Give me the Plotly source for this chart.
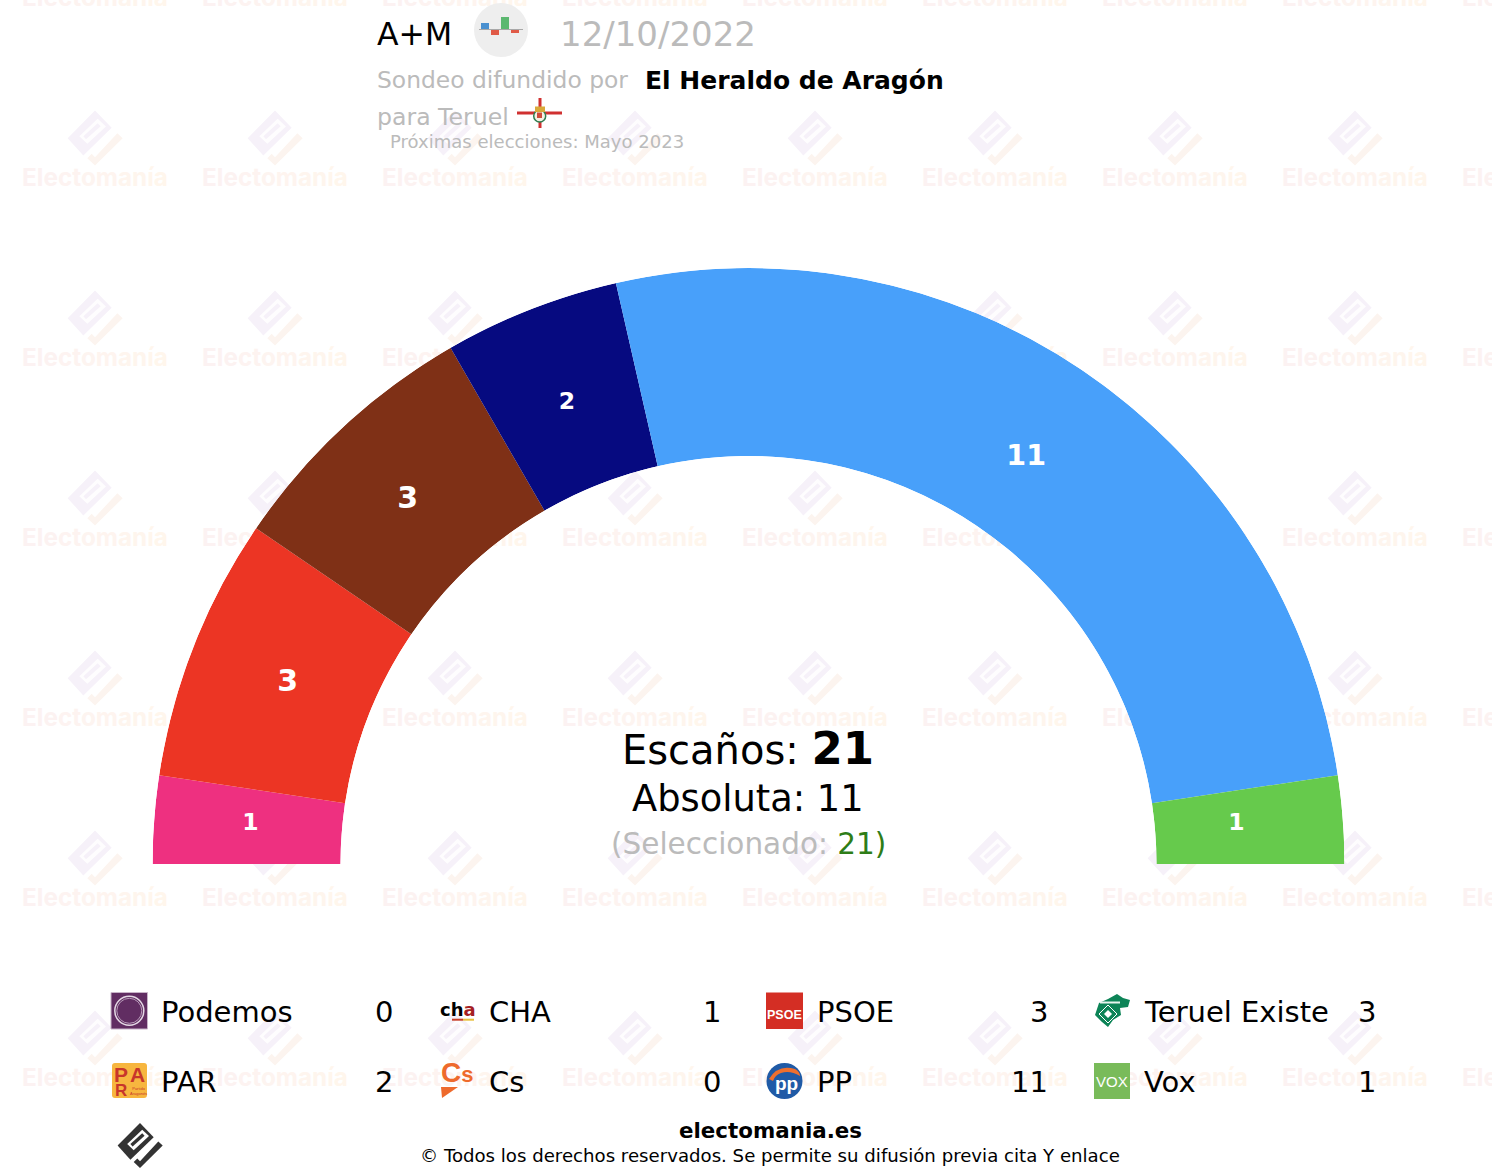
import plotly.graph_objects as go

# ---------- data ----------
arch_parties = ["CHA", "PSOE", "Teruel Existe", "PAR", "PP", "Vox"]
arch_seats = [1, 3, 3, 2, 11, 1]
arch_colors = ["#EE3080", "#EC3524", "#7F3016", "#060A80", "#48A0FA", "#66CA4C"]
label_sizes = [23.5, 30, 30, 23.5, 28.5, 23.5]
label_radial = [0.487, 0.462, 0.480, 0.465, 0.448, 0.434]
label_shift = [-0.25, 0.08, 0.31, 0.07, -0.06, 0.34]

legend_row1 = ["Podemos", "CHA", "PSOE", "Teruel Existe"]
legend_row1_values = [0, 1, 3, 3]
legend_row2 = ["PAR", "Cs", "PP", "Vox"]
legend_row2_values = [2, 0, 11, 1]

total_seats = 21
majority = 11
selected = 21

W, H = 1492, 1176
FONT = "DejaVu Sans"
GRAY = "#BBBBBB"

fig = go.Figure()

# ---------- watermark (pixel-space axes, sits under the polar subplot) ----------
def zpts(pts, cx, cy, s=1.0):
    xs, ys = [], []
    for zx, zy in pts:
        xs.append(cx + s * (zx / 3 - 95))
        ys.append(cy + s * (90 + zy / 3 - 137.5))
    xs.append(xs[0]); ys.append(ys[0])
    return xs, ys

DIAMOND = [(285, 60), (335, 112), (250, 195), (203, 143)]
SLOT = [(238, 137), (293, 85), (318, 108), (262, 160)]
SLOT_IN = [(250, 137), (293, 98), (302, 107), (258, 146)]
CHECK = [(352, 128), (368, 143), (285, 225), (262, 203), (275, 190), (285, 200)]

def collect(poly, centers, s=1.0):
    X, Y = [], []
    for cx, cy in centers:
        x, y = zpts(poly, cx, cy, s)
        X += x + [None]; Y += y + [None]
    return X, Y

tile_xs = [95 + 180 * i for i in range(9)]
icon_ys = [138 + 180 * j for j in range(6)]
centers = [(x, y) for y in icon_ys for x in tile_xs]

def add_poly(poly, centers, color, s=1.0):
    X, Y = collect(poly, centers, s)
    fig.add_trace(go.Scatter(x=X, y=Y, mode="lines", fill="toself", fillcolor=color,
                             line=dict(width=0), hoverinfo="skip", showlegend=False,
                             xaxis="x", yaxis="y"))

add_poly(DIAMOND, centers, "#F6F1F9")
add_poly(SLOT, centers, "#FEFDFE")
add_poly(SLOT_IN, centers, "#F6F1F9")
add_poly(CHECK, centers, "#FCF4EF")

wm_word = "Electomanía"
wm_cols = ["#FCF2F2", "#FCF2F2", "#FCF2F1", "#FDF3F1", "#FDF3F0", "#FDF4F0",
           "#FEF4EF", "#FEF5EE", "#FEF5ED", "#FFF6ED", "#FFF6EC"]
wm_text = "".join(f'<span style="color:{c}">{ch}</span>' for ch, c in zip(wm_word, wm_cols))
text_ys = [-0.5 + 180 * j for j in range(7)]
wm_x = [x for y in text_ys for x in tile_xs]
wm_y = [y for y in text_ys for x in tile_xs]
fig.add_trace(go.Scatter(x=wm_x, y=wm_y, mode="text", text=[wm_text] * len(wm_x),
                         textposition="middle center",
                         textfont=dict(family="Inter", size=24.3, color="#FCF2F1", weight=700),
                         hoverinfo="skip", showlegend=False, xaxis="x", yaxis="y"))

# ---------- hemicycle ----------
thetas, widths = [], []
cum = 0
for s in arch_seats:
    thetas.append(180 - (cum + s / 2) * 180 / total_seats)
    widths.append(s * 180 / total_seats)
    cum += s

fig.add_trace(go.Barpolar(theta=thetas, r=[1] * len(arch_seats), width=widths,
                          marker=dict(color=arch_colors, line=dict(width=0)),
                          hoverinfo="skip", showlegend=False, subplot="polar"))
fig.add_trace(go.Scatterpolar(theta=[t + d for t, d in zip(thetas, label_shift)], r=label_radial, mode="text",
                              text=[f"<b>{s}</b>" for s in arch_seats],
                              textfont=dict(family=FONT, size=label_sizes, color="white"),
                              hoverinfo="skip", showlegend=False, subplot="polar"))

# ---------- helpers ----------
ann = []
shp = []

def T(x, y, text, size=24, color="black", anchor="left", family=FONT):
    ann.append(dict(x=x, y=y, xref="x", yref="y", text=text, showarrow=False,
                    xanchor=anchor, yanchor="middle", borderpad=0,
                    font=dict(family=family, size=size, color=color)))

def rect(x0, y0, x1, y1, fill, line=None, lw=0):
    shp.append(dict(type="rect", xref="x", yref="y", x0=x0, y0=y0, x1=x1, y1=y1,
                    fillcolor=fill, line=dict(width=lw, color=line or fill), layer="above"))

def circ(cx, cy, r, fill="rgba(0,0,0,0)", line=None, lw=0):
    shp.append(dict(type="circle", xref="x", yref="y", x0=cx - r, y0=cy - r, x1=cx + r, y1=cy + r,
                    fillcolor=fill, line=dict(width=lw, color=line or "rgba(0,0,0,0)"), layer="above"))

def path(d, fill="rgba(0,0,0,0)", line=None, lw=0):
    shp.append(dict(type="path", xref="x", yref="y", path=d, fillcolor=fill,
                    line=dict(width=lw, color=line or "rgba(0,0,0,0)"), layer="above"))

def poly_path(pts):
    return "M" + " L".join(f"{x:.1f},{y:.1f}" for x, y in pts) + " Z"

def zpoly(poly, cx, cy, s):
    xs, ys = zpts(poly, cx, cy, s)
    return list(zip(xs[:-1], ys[:-1]))

# ---------- header ----------
T(376, 34, "A+M", 31.5)
circ(501, 30, 27, "#EEEEEE")
rect(481, 23, 489, 29, "#4A90D0")
rect(491, 29.5, 499, 35, "#E05A47")
rect(501, 17, 509, 29, "#5CB870")
rect(511, 29.5, 519, 33, "#E05A47")
rect(479, 29, 523, 30, "#A8A8A8")
T(559, 34, "12/10/2022", 34, GRAY)
T(376, 80, "Sondeo difundido por", 23.4, GRAY)
T(644, 80, "<b>El Heraldo de Aragón</b>", 25)
T(376, 117, "para Teruel", 23.6, GRAY)
rect(517, 111.5, 562, 114.5, "#D03030")
rect(538.5, 98, 541.5, 128, "#D03030")
circ(539.7, 116, 6, "#F4F0E4", "#2E7D4F", 1.5)
rect(537, 112.5, 542, 118, "#D04A3A")
rect(535, 106.5, 545, 112, "#D9A93A")
T(389, 141.5, "Próximas elecciones: Mayo 2023", 18.05, GRAY)

# ---------- centre ----------
T(748, 748.5, f'Escaños: <span style="font-size:45px"><b>{total_seats}</b></span>', 40, anchor="center")
T(748, 798, f"Absoluta: {majority}", 36.8, anchor="center")
T(748, 844, f'<span style="color:{GRAY}">(Seleccionado: </span><span style="color:#2E7D17">{selected})</span>',
  29.5, anchor="center")

# ---------- legend ----------
col_text = [160, 488, 816, 1143]
col_val = [394, 722, 1049, 1377]
row_y = [1011.5, 1081.5]
for names, vals, y in [(legend_row1, legend_row1_values, row_y[0]), (legend_row2, legend_row2_values, row_y[1])]:
    for i, (n, v) in enumerate(zip(names, vals)):
        T(col_text[i], y, n, 29)
        T(col_val[i], y, str(v), 29, anchor="right")

# Podemos
rect(111, 992.5, 147.5, 1029, "#612D62", "#C8B4C8", 1)
circ(129.3, 1010.8, 14.5, line="#E4D8E4", lw=1.5)
circ(129.3, 1010.8, 12.5, line="#B79AB8", lw=1)
# CHA
T(439, 1009.5, '<b>ch<span style="color:#A51F24">a</span></b>', 18)
rect(452, 1018.7, 463, 1020.7, "#C8402A")
rect(463, 1018.7, 474, 1020.7, "#E8C040")
# PSOE
rect(766, 992.5, 803, 1029, "#D42E24")
T(784.5, 1015, "<b>PSOE</b>", 12.5, "white", "center", family="Liberation Sans")
# Teruel Existe blob
path("M1108,999 L1117,994 L1123,998 L1130,1000 L1128,1007 L1120,1008 L1121,1015 L1113,1020 "
     "L1108,1027 L1102,1022 L1095,1015 L1099,1003 Z", "#0D8457")
path("M1108,1005 L1117,1014 L1108,1023 L1099,1014 Z", "#0D8457", "#FFFFFF", 1)
path("M1108,1010 L1112,1014 L1108,1018 L1104,1014 Z", "#FFFFFF")
rect(1100, 1001.5, 1120, 1003.5, "#E8F4EE")
# PAR
path("M115,1063 L144,1063 Q147,1063 147,1066 L147,1095 Q147,1098 144,1098 L115,1098 "
     "Q112,1098 112,1095 L112,1066 Q112,1063 115,1063 Z", "#F7B63F")
T(120.5, 1074.5, "<b>P</b>", 21, "#C8362B", "center", family="Liberation Sans")
T(137.5, 1074.5, "<b>A</b>", 21, "#C8362B", "center", family="Liberation Sans")
T(120.5, 1090.5, "<b>R</b>", 17, "#C8362B", "center", family="Liberation Sans")
T(138, 1090.5, "Partido<br>Aragonés", 4, "#C8362B", "center", family="Liberation Sans")
# Cs
T(457, 1072, '<b>C<span style="font-size:22px">s</span></b>', 28, "#EE6A2C", "center", family="Liberation Sans")
path("M441,1087 L458,1087 L442,1098 Z", "#EE6A2C")
# PP
circ(784.5, 1081, 18, "#1F5AA6")
path("M769,1079 Q778,1064 795,1069 Q800,1072 800,1076 Q790,1070 781,1073 Q775,1075 773,1081 Z", "#EE6F2E")
T(786, 1083, "<b>pp</b>", 19, "white", "center", family="Liberation Sans")
# Vox
rect(1094, 1063, 1130, 1099, "#79BB5A")
T(1112, 1081, "VOX", 15, "white", "center", family="Liberation Sans")

# ---------- footer ----------
cx, cy, s = 140, 1145.5, 0.82
for poly, col in [(DIAMOND, "#333333"), (SLOT, "#FFFFFF"), (SLOT_IN, "#333333"), (CHECK, "#333333")]:
    path(poly_path(zpoly(poly, cx, cy, s)), col)
T(770.5, 1130, "<b>electomania.es</b>", 21.4, anchor="center")
T(770, 1155.5, "© Todos los derechos reservados. Se permite su difusión previa cita Y enlace", 18.15, anchor="center")

# ---------- layout ----------
CX, CY, R, r_in = 748.5, 864, 596, 408
fig.update_layout(
    width=W, height=H, margin=dict(l=0, r=0, t=0, b=0),
    paper_bgcolor="white", plot_bgcolor="rgba(0,0,0,0)",
    showlegend=False, hovermode=False,
    xaxis=dict(range=[0, W], domain=[0, 1], visible=False, fixedrange=True),
    yaxis=dict(range=[H, 0], domain=[0, 1], visible=False, fixedrange=True),
    polar=dict(
        domain=dict(x=[(CX - R) / W, (CX + R) / W], y=[(H - CY) / H, (H - CY + R) / H]),
        sector=[0, 180], hole=r_in / R, bgcolor="rgba(0,0,0,0)",
        angularaxis=dict(visible=False, direction="counterclockwise", rotation=0),
        radialaxis=dict(visible=False, range=[0, 1]),
    ),
    annotations=ann, shapes=shp,
)
fig.write_html("out.html", config={"displayModeBar": False},
               post_script="document.body.style.margin='0';document.body.style.overflow='hidden';")
